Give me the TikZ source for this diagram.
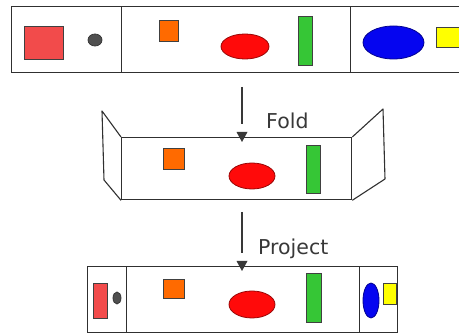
\documentclass[tikz,border=0pt]{standalone}
\usepackage{fontspec}
\setsansfont{DejaVu Sans}
\usetikzlibrary{positioning,arrows.meta,shapes.geometric,calc}
\definecolor{panel}{HTML}{303030}
\definecolor{ink}{HTML}{383838}
\definecolor{boxred}{HTML}{F24B4B}
\definecolor{dotgray}{HTML}{505050}
\definecolor{tangerine}{HTML}{FF6A00}
\definecolor{ovalred}{HTML}{FF0A0A}
\definecolor{bargreen}{HTML}{36C636}
\definecolor{blobblue}{HTML}{0505F0}
\definecolor{lemon}{HTML}{FFFF00}

\begin{document}
\begin{tikzpicture}[
    x=1pt, y=-1pt,
    frame/.style={draw=panel, line width=1.3pt, rectangle, inner sep=0pt, anchor=north west},
    flap/.style={draw=panel, line width=1.1pt, line join=round},
    sq/.style={rectangle, draw=black!75, line width=0.8pt, inner sep=0pt},
    oval/.style={ellipse, inner sep=0pt, line width=0.8pt},
    rel/.style={draw=ink, line width=1.3pt, shorten >=18pt},
    head/.style={fill=ink},
    lab/.style={font=\sffamily\fontsize{20.5}{24}\selectfont, text=ink, anchor=base west, inner sep=0pt},
  ]
  \useasboundingbox (0,0) rectangle (459,336);
  \clip (0,0) rectangle (459,336);

  % the flat strip, at the top
  \node[frame, minimum width=110pt, minimum height=66pt] (topL) at (11,6) {};
  \node[frame, minimum width=229pt, minimum height=66pt] (topM) at (121,6) {};
  \node[frame, minimum width=120pt, minimum height=66pt] (topR) at (350,6) {};

  \node[sq, fill=boxred, minimum width=39pt, minimum height=33pt] (sqA) at (43.5,42.5) {};
  \node[oval, fill=dotgray, draw=dotgray!70!black, minimum width=14pt, minimum height=12pt] (dotA) at (95,40) {};
  \node[sq, fill=tangerine, minimum width=19pt, minimum height=21pt] (sqB) at (168.5,30.5) {};
  \node[oval, fill=ovalred, draw=ovalred!60!black, minimum width=48pt, minimum height=25pt] (ovB) at (245,46.5) {};
  \node[sq, fill=bargreen, minimum width=14pt, minimum height=49pt] (barB) at (305,40.5) {};
  \node[oval, fill=blobblue, draw=blobblue!60!black, minimum width=61pt, minimum height=33pt] (ovC) at (393.5,42.5) {};
  \node[sq, fill=lemon, minimum width=32pt, minimum height=20pt] (sqC) at (452,37) {};

  % fold
  \coordinate (foldtail) at (242,87);
  \node[frame, minimum width=230pt, minimum height=62pt] (midM) at (121,137) {};
  \draw[flap] (midM.north west) -- (102,111) -- (104,180) -- (midM.south west);
  \draw[flap] (midM.north east) -- (383,109) -- (385,179) -- (midM.south east);
  \coordinate (foldtip) at ($(foldtail |- midM.north)+(0,5)$);
  \draw[rel] (foldtail) -- (foldtip);
  \fill[head] (foldtip) -- ++(-5.5,-10) -- ++(11,0) -- cycle;
  \node[lab] (foldlab) at (266,129) {Fold};

  \node[sq, fill=tangerine, minimum width=21pt, minimum height=21pt] (sqE) at (173.5,158.5) {};
  \node[oval, fill=ovalred, draw=ovalred!60!black, minimum width=46pt, minimum height=26pt] (ovE) at (252,176) {};
  \node[sq, fill=bargreen, minimum width=14pt, minimum height=48pt] (barE) at (313,169) {};

  % project
  \coordinate (projtail) at (242,212);
  \node[frame, minimum width=39pt, minimum height=66pt] (botL) at (87,266) {};
  \node[frame, minimum width=233pt, minimum height=66pt] (botM) at (126,266) {};
  \node[frame, minimum width=38pt, minimum height=66pt] (botR) at (359,266) {};
  \coordinate (projtip) at ($(projtail |- botM.north)+(0,5)$);
  \draw[rel] (projtail) -- (projtip);
  \fill[head] (projtip) -- ++(-5.5,-10) -- ++(11,0) -- cycle;
  \node[lab] (projlab) at (258,255) {Project};

  \node[sq, fill=boxred, minimum width=14pt, minimum height=35pt] (sqP) at (100,300.5) {};
  \node[oval, fill=dotgray, draw=dotgray!70!black, minimum width=8pt, minimum height=12pt] (dotP) at (117,298) {};
  \node[sq, fill=tangerine, minimum width=21pt, minimum height=19pt] (sqQ) at (173.5,288.5) {};
  \node[oval, fill=ovalred, draw=ovalred!60!black, minimum width=46pt, minimum height=27pt] (ovQ) at (252,304.5) {};
  \node[sq, fill=bargreen, minimum width=15pt, minimum height=49pt] (barQ) at (313.5,297.5) {};
  \node[oval, fill=blobblue, draw=blobblue!60!black, minimum width=16pt, minimum height=35pt] (ovR) at (371,300.5) {};
  \node[sq, fill=lemon, minimum width=13pt, minimum height=21pt] (sqR) at (390,293.5) {};
\end{tikzpicture}
\end{document}
